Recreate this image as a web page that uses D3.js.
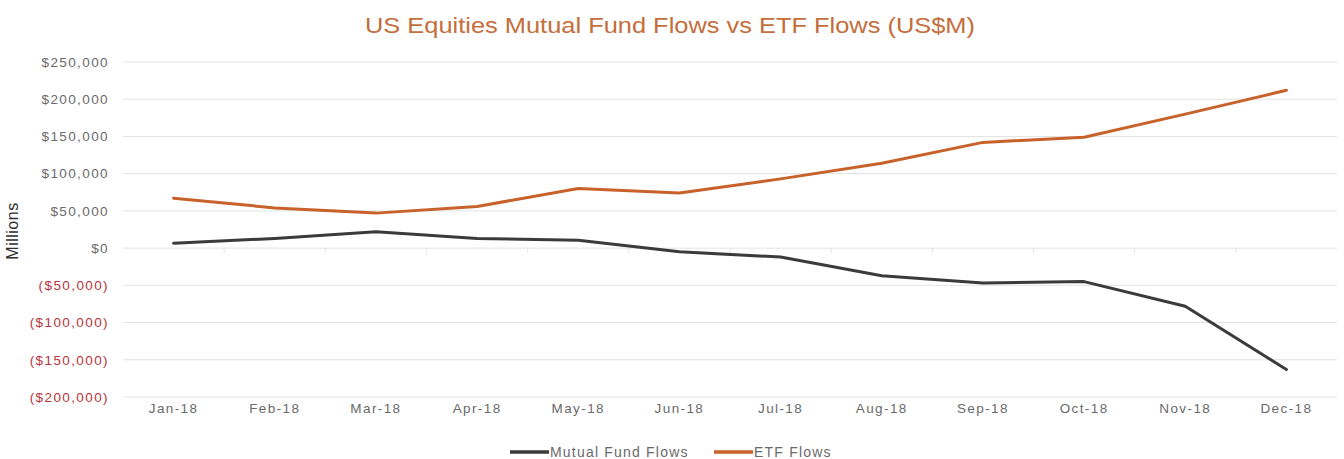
<!DOCTYPE html>
<html>
<head>
<meta charset="utf-8">
<script src="https://cdn.jsdelivr.net/npm/d3@7"></script>
<style>
  html, body { margin: 0; padding: 0; background: #fff; }
  svg { display: block; font-family: "Liberation Sans", Arial, sans-serif; }
</style>
</head>
<body>
<svg id="chart" width="1344" height="459"></svg>
<script>
// Monthly flows, US$ millions
const months = ["Jan-18","Feb-18","Mar-18","Apr-18","May-18","Jun-18","Jul-18","Aug-18","Sep-18","Oct-18","Nov-18","Dec-18"];
const mutualFundFlows = [6500, 13000, 22000, 13000, 10500, -5000, -12000, -37000, -47000, -45000, -78000, -163000];
const etfFlows = [67000, 54000, 47000, 56000, 80000, 74000, 93000, 114000, 142000, 149000, 180000, 212000];
const yTicks = [-200000, -150000, -100000, -50000, 0, 50000, 100000, 150000, 200000, 250000];

const seriesList = [
  { name: "Mutual Fund Flows", values: mutualFundFlows, color: "#3b3b3b" },
  { name: "ETF Flows", values: etfFlows, color: "#c8622a" }
];

const svg = d3.select("#chart");
const margin = { left: 123, right: 7 };
const W = 1344;

const x = d3.scaleBand().domain(months).range([margin.left, W - margin.right]);
const y = d3.scaleLinear().domain([-200000, 250000]).range([397, 62]);

// Title
svg.append("text")
  .attr("x", 365).attr("y", 33)
  .attr("font-size", 22)
  .attr("textLength", 610)
  .attr("lengthAdjust", "spacingAndGlyphs")
  .attr("fill", "#c46e3c")
  .text("US Equities Mutual Fund Flows vs ETF Flows (US$M)");

// Horizontal gridlines
svg.append("g")
  .selectAll("line")
  .data(yTicks)
  .join("line")
  .attr("x1", margin.left).attr("x2", W - margin.right)
  .attr("y1", d => y(d)).attr("y2", d => y(d))
  .attr("stroke", "#e2e2e2").attr("stroke-width", 1);

// Y axis labels (negatives in accounting red)
const fmt = d3.format(",");
const yAxis = d3.axisLeft(y).tickValues(yTicks).tickSize(0).tickPadding(0)
  .tickFormat(d => d < 0 ? "($" + fmt(-d) + ")" : "$" + fmt(d));
svg.append("g")
  .attr("transform", `translate(${margin.left - 14},0)`)
  .call(yAxis)
  .call(g => g.select(".domain").remove())
  .call(g => g.selectAll("text")
    .attr("font-size", 13.5)
    .attr("letter-spacing", 1.4)
    .attr("font-family", "Liberation Sans, Arial, sans-serif")
    .attr("fill", d => d < 0 ? "#b8343a" : "#6a6a6a"));

// Category ticks on the zero line
svg.append("g")
  .selectAll("line")
  .data(months.slice(1))
  .join("line")
  .attr("x1", d => x(d)).attr("x2", d => x(d))
  .attr("y1", y(0)).attr("y2", y(0) + 5)
  .attr("stroke", "#e4e4e4");

// X axis labels
const xAxis = d3.axisBottom(x).tickSize(0).tickPadding(0);
svg.append("g")
  .attr("transform", `translate(0,${413})`)
  .call(xAxis)
  .call(g => g.select(".domain").remove())
  .call(g => g.selectAll("text")
    .attr("font-size", 13.5)
    .attr("letter-spacing", 1.4)
    .attr("font-family", "Liberation Sans, Arial, sans-serif")
    .attr("dy", 0)
    .attr("fill", "#6a6a6a"));

// Y axis title
svg.append("text")
  .attr("transform", `translate(18,231) rotate(-90)`)
  .attr("text-anchor", "middle")
  .attr("font-size", 16)
  .attr("letter-spacing", 0.5)
  .attr("fill", "#2e2e2e")
  .text("Millions");

// Lines
const line = d3.line()
  .x((d, i) => x(months[i]) + x.bandwidth() / 2)
  .y(d => y(d));

svg.append("g")
  .selectAll("path")
  .data(seriesList)
  .join("path")
  .attr("d", d => line(d.values))
  .attr("fill", "none")
  .attr("stroke", d => d.color)
  .attr("stroke-width", 3)
  .attr("stroke-linejoin", "round")
  .attr("stroke-linecap", "round");

// Legend
const legendItems = [
  { s: seriesList[0], x: 510 },
  { s: seriesList[1], x: 714 }
];
const lg = svg.append("g");
legendItems.forEach(it => {
  lg.append("line")
    .attr("x1", it.x).attr("x2", it.x + 39)
    .attr("y1", 452).attr("y2", 452)
    .attr("stroke", it.s.color).attr("stroke-width", 3.5);
  lg.append("text")
    .attr("x", it.x + 40).attr("y", 457)
    .attr("font-size", 14)
    .attr("letter-spacing", 1.2)
    .attr("fill", "#6a6a6a")
    .text(it.s.name);
});
</script>
</body>
</html>
